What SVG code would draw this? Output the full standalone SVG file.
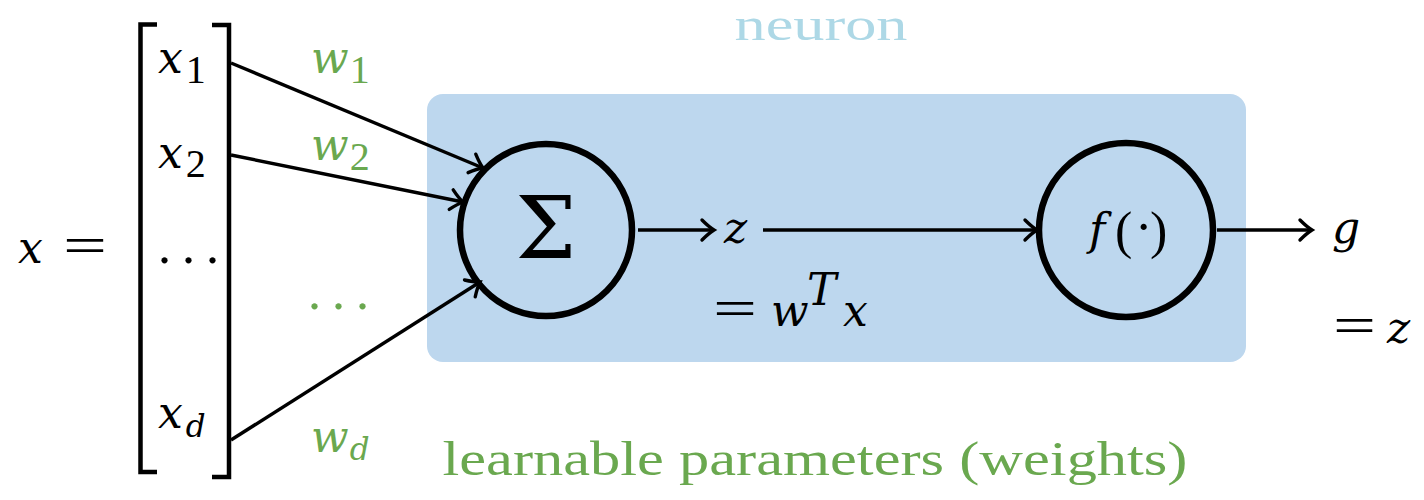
<svg xmlns="http://www.w3.org/2000/svg" width="1424" height="500" viewBox="0 0 1424 500">
<style>
.m{font-family:"DejaVu Serif",serif;font-style:italic;font-size:44px;fill:#000}
.r{font-family:"Liberation Serif",serif;font-size:52px;fill:#000}
.sub{font-family:"Liberation Serif",serif;font-size:40px;font-style:normal}
.subi{font-size:31px}
.g{fill:#6aa84f}
.edge{stroke:#000;stroke-width:3.4;fill:none}
.node{stroke:#000;stroke-width:6.5;fill:none}
.br{stroke:#000;stroke-width:4.5;fill:none}
</style>
<defs>
<marker id="arr" markerUnits="userSpaceOnUse" markerWidth="30" markerHeight="30" viewBox="-15 -15 30 30" refX="0" refY="0" orient="auto" overflow="visible">
<path d="M-12,-10 Q-5,-3 0,0 Q-5,3 -12,10" stroke="#000" stroke-width="3.4" fill="none" stroke-linecap="round"/>
</marker>
</defs>
<rect x="427" y="94" width="819" height="268" rx="16" fill="#bdd7ee"/>
<text x="821" y="40" text-anchor="middle" font-family="Liberation Serif,serif" font-size="46" fill="#add8e6" textLength="173" lengthAdjust="spacingAndGlyphs">neuron</text>
<g id="vector">
<text class="m" x="18" y="263">x</text>
<text class="r" x="63" y="263" textLength="44" lengthAdjust="spacingAndGlyphs">=</text>
<path class="br" d="M157,24.5 L140.5,24.5 L140.5,472 L157,472"/>
<path class="br" d="M212,25 L229,25 L229,477 L212,477"/>
<text class="m" x="158" y="73">x<tspan class="sub" dx="3" dy="10">1</tspan></text>
<text class="m" x="158" y="168">x<tspan class="sub" dx="3" dy="9">2</tspan></text>
<text class="r" x="158" y="263" font-size="56" letter-spacing="11">...</text>
<text class="m" x="158" y="428">x<tspan class="subi" dx="3" dy="9">d</tspan></text>
</g>
<g id="weights">
<text class="m g" x="311" y="73">w<tspan class="sub" dx="1" dy="10">1</tspan></text>
<text class="m g" x="311" y="160">w<tspan class="sub" dx="1" dy="10">2</tspan></text>
<text class="r g" x="308" y="309" font-size="56" letter-spacing="11">...</text>
<text class="m g" x="311" y="452">w<tspan class="subi" dx="1" dy="8">d</tspan></text>
</g>
<g id="sum">
<circle class="node" cx="546" cy="230" r="86"/>
<text x="546" y="258" text-anchor="middle" font-family="DejaVu Serif,serif" font-size="86">Σ</text>
</g>
<g id="activation">
<circle class="node" cx="1126" cy="230" r="87"/>
<text class="m" x="1089" y="245" font-size="50">f</text>
<text class="r" x="1115" y="248" font-size="58">(</text>
<text class="r" x="1135" y="244">·</text>
<text class="r" x="1150" y="248" font-size="58">)</text>
</g>
<g id="labels">
<text class="m" x="724" y="243">z</text>
<text class="r" x="713" y="326" textLength="44" lengthAdjust="spacingAndGlyphs">=</text>
<text class="m" x="771" y="326">w</text>
<text class="m" x="807" y="305" font-size="34">T</text>
<text class="m" x="843" y="326">x</text>
<text class="m" x="1332" y="243">g</text>
<text class="r" x="1333" y="343" textLength="43" lengthAdjust="spacingAndGlyphs">=</text>
<text class="m" x="1387" y="343">z</text>
</g>
<text x="815" y="475" text-anchor="middle" font-family="Liberation Serif,serif" font-size="48" fill="#6aa84f" textLength="745" lengthAdjust="spacingAndGlyphs">learnable parameters (weights)</text>
<g id="connectors">
<line class="edge" x1="231" y1="63" x2="483" y2="168" marker-end="url(#arr)"/>
<line class="edge" x1="231" y1="155" x2="463" y2="202" marker-end="url(#arr)"/>
<line class="edge" x1="231" y1="440" x2="480" y2="282" marker-end="url(#arr)"/>
<line class="edge" x1="638" y1="230" x2="714" y2="230" marker-end="url(#arr)"/>
<line class="edge" x1="763" y1="230" x2="1037" y2="230" marker-end="url(#arr)"/>
<line class="edge" x1="1217" y1="230" x2="1312" y2="230" marker-end="url(#arr)"/>
</g>
</svg>
